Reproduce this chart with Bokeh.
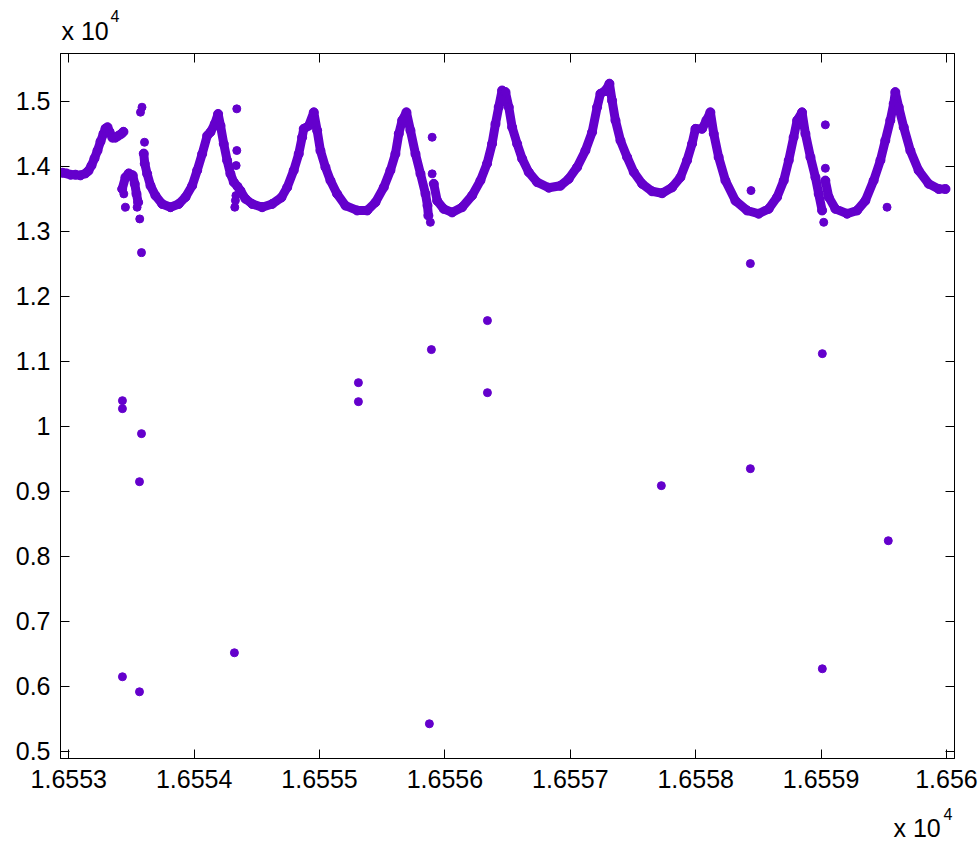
from bokeh.plotting import figure
from bokeh.models import FixedTicker, LinearAxis, Label, Range1d
from bokeh.embed import file_html
from bokeh.resources import INLINE

NAN = float("nan")

# ---- tick values / labels ----
x_ticks = [16553, 16554, 16555, 16556, 16557, 16558, 16559, 16560]
x_tick_labels = ["1.6553", "1.6554", "1.6555", "1.6556", "1.6557", "1.6558", "1.6559", "1.656"]
y_ticks = [5000, 6000, 7000, 8000, 9000, 10000, 11000, 12000, 13000, 14000, 15000]
y_tick_labels = ["0.5", "0.6", "0.7", "0.8", "0.9", "1", "1.1", "1.2", "1.3", "1.4", "1.5"]

# ---- main band, in pieces ----
seg_a_x = [16552.950, 16552.982, 16553.014, 16553.053, 16553.093, 16553.133, 16553.157, 16553.181,
           16553.205, 16553.229, 16553.253, 16553.277, 16553.293, 16553.309, 16553.325, 16553.348,
           16553.372, 16553.396, 16553.420, 16553.436]
seg_a_y = [13900, 13890, 13870, 13870, 13860, 13890, 13930, 14010, 14120, 14240, 14380, 14500,
           14580, 14600, 14530, 14440, 14440, 14470, 14500, 14530]

seg_b_x = [16553.426, 16553.452, 16553.478, 16553.510, 16553.526, 16553.540, 16553.553]
seg_b_y = [13650, 13830, 13890, 13860, 13730, 13575, 13445]

seg_c_x = [16553.598, 16553.606, 16553.625, 16553.652, 16553.691, 16553.745, 16553.811, 16553.877,
           16553.931, 16553.984, 16554.024, 16554.064, 16554.104, 16554.130, 16554.164, 16554.191,
           16554.210, 16554.236, 16554.263, 16554.289, 16554.316, 16554.345, 16554.369, 16554.409,
           16554.463, 16554.542, 16554.622, 16554.696, 16554.742, 16554.794, 16554.834, 16554.861,
           16554.874, 16554.914, 16554.954, 16554.981, 16555.007, 16555.047, 16555.087, 16555.140,
           16555.207, 16555.300, 16555.380, 16555.446, 16555.512, 16555.565, 16555.605, 16555.632,
           16555.659, 16555.693, 16555.725, 16555.765, 16555.805, 16555.845, 16555.861, 16555.868]
seg_c_y = [14195, 14040, 13885, 13700, 13550, 13420, 13370, 13420, 13525, 13700, 13935, 14190,
           14470, 14525, 14650, 14805, 14625, 14345, 14090, 13885, 13755, 13690, 13625, 13500,
           13420, 13370, 13420, 13520, 13675, 13935, 14190, 14445, 14575, 14625, 14830, 14550,
           14240, 13985, 13780, 13575, 13395, 13320, 13320, 13445, 13675, 13935, 14190, 14500,
           14705, 14830, 14550, 14190, 13885, 13575, 13395, 13240]

seg_d_x = [16555.911, 16555.938, 16555.990, 16556.057, 16556.137, 16556.217, 16556.283, 16556.336,
           16556.376, 16556.403, 16556.429, 16556.456, 16556.483, 16556.509, 16556.536, 16556.576,
           16556.616, 16556.668, 16556.735, 16556.828, 16556.921, 16556.987, 16557.054, 16557.120,
           16557.174, 16557.214, 16557.240, 16557.280, 16557.312, 16557.333, 16557.360, 16557.400,
           16557.453, 16557.506, 16557.573, 16557.652, 16557.732, 16557.812, 16557.878, 16557.931,
           16557.971, 16557.998, 16558.051, 16558.085, 16558.117, 16558.144, 16558.183, 16558.237,
           16558.317, 16558.410, 16558.502, 16558.582, 16558.649, 16558.702, 16558.742, 16558.781,
           16558.809, 16558.848, 16558.875, 16558.915, 16558.955, 16558.981, 16559.008]
seg_d_y = [13730, 13470, 13345, 13290, 13370, 13550, 13780, 14040, 14345, 14650, 14910, 15165,
           15140, 14910, 14600, 14345, 14115, 13910, 13755, 13670, 13700, 13805, 13985, 14240,
           14525, 14910, 15115, 15165, 15270, 15010, 14705, 14395, 14140, 13910, 13730, 13615,
           13585, 13675, 13830, 14090, 14345, 14575, 14575, 14705, 14830, 14500, 14140, 13780,
           13470, 13320, 13270, 13345, 13525, 13780, 14090, 14445, 14705, 14830, 14500, 14140,
           13830, 13575, 13320]

seg_e_x = [16559.034, 16559.061, 16559.114, 16559.207, 16559.287, 16559.353, 16559.419, 16559.473,
           16559.512, 16559.552, 16559.579, 16559.592, 16559.619, 16559.659, 16559.712, 16559.778,
           16559.858, 16559.938, 16559.992]
seg_e_y = [13780, 13525, 13345, 13270, 13320, 13470, 13780, 14090, 14395, 14705, 14960, 15140,
           14910, 14600, 14240, 13935, 13730, 13650, 13650]

# ---- isolated points near the band ----
near_x = [16553.439, 16553.452, 16553.545, 16553.566, 16553.584, 16553.572, 16553.604, 16554.340,
          16554.340, 16554.335, 16554.324, 16554.333, 16554.329, 16555.898, 16555.898, 16555.884,
          16558.441, 16559.034, 16559.034, 16559.021, 16559.526]
near_y = [13575, 13370, 13370, 13190, 14908, 14831, 14369, 14883, 14242, 14011, 13370, 13549,
          13473, 14446, 13883, 13138, 13626, 14637, 13969, 13138, 13370]

# ---- far outliers ----
out_x = [16553.428, 16553.428, 16553.428, 16553.564, 16553.580, 16553.564, 16553.580, 16554.321,
         16555.310, 16555.310, 16555.892, 16555.876, 16556.339, 16556.339, 16557.726, 16558.436,
         16558.436, 16559.010, 16559.010, 16559.536]
out_y = [10395, 10272, 6149, 5918, 9888, 9149, 12672, 6518, 10672, 10380, 11180, 5426, 11626,
         10518, 9088, 12503, 9349, 11118, 6272, 8241]

segments = [(seg_a_x, seg_a_y), (seg_b_x, seg_b_y), (seg_c_x, seg_c_y),
            (seg_d_x, seg_d_y), (seg_e_x, seg_e_y)]
for sx, sy in segments:
    assert len(sx) == len(sy)
assert len(near_x) == len(near_y) and len(out_x) == len(out_y)

band_x, band_y = [], []
for sx, sy in segments:
    band_x += sx + [NAN]
    band_y += sy + [NAN]

COLOR = "#6400CC"
FONT = "Liberation Sans"

p = figure(width=979, height=843, output_backend="svg", toolbar_location=None,
           x_range=Range1d(16552.934, 16560.064), y_range=Range1d(4892, 15734),
           min_border_left=60, min_border_right=25, min_border_top=53, min_border_bottom=85)
p.grid.visible = False
p.outline_line_color = "black"
p.outline_line_width = 1
p.background_fill_color = "white"
p.border_fill_color = "white"

p.line(band_x, band_y, line_color=COLOR, line_width=9, line_join="round", line_cap="round")
all_sx = [v for sx, _ in segments for v in sx]
all_sy = [v for _, sy in segments for v in sy]
p.scatter(all_sx, all_sy, size=9, color=COLOR)
p.scatter(near_x, near_y, size=8, color=COLOR)
p.scatter(out_x, out_y, size=8, color=COLOR)

p.add_layout(LinearAxis(), "above")
p.add_layout(LinearAxis(), "right")

for ax in p.xaxis:
    ax.ticker = FixedTicker(ticks=x_ticks)
    ax.major_label_overrides = {t: l for t, l in zip(x_ticks, x_tick_labels)}
for ax in p.yaxis:
    ax.ticker = FixedTicker(ticks=y_ticks)
    ax.major_label_overrides = {t: l for t, l in zip(y_ticks, y_tick_labels)}

for ax in p.xaxis + p.yaxis:
    ax.major_tick_in = 9
    ax.major_tick_out = 0
    ax.minor_tick_line_color = None
    ax.axis_line_color = "black"
    ax.major_tick_line_color = "black"
    ax.major_label_text_font = FONT
    ax.major_label_text_font_size = "25px"
    ax.major_label_text_color = "black"

for ax in p.above + p.right:
    if isinstance(ax, LinearAxis):
        ax.major_label_text_font_size = "1px"
        ax.major_label_text_color = None
        ax.major_label_standoff = 0
for ax in p.below:
    if isinstance(ax, LinearAxis):
        ax.major_label_standoff = 11
for ax in p.left:
    if isinstance(ax, LinearAxis):
        ax.major_label_standoff = 10

# exponent annotations ("x 10^4"), placed in the side panels so they are not clipped
p.add_layout(Label(x=16552.942, y=16080, text="x 10", text_font=FONT, text_font_size="25px",
                   text_color="black", text_baseline="alphabetic"), "above")
p.add_layout(Label(x=16553.333, y=16310, text="4", text_font=FONT, text_font_size="16px",
                   text_color="black", text_baseline="alphabetic"), "above")
p.add_layout(Label(x=16559.577, y=3820, text="x 10", text_font=FONT, text_font_size="25px",
                   text_color="black", text_baseline="alphabetic"), "below")
p.add_layout(Label(x=16559.976, y=4035, text="4", text_font=FONT, text_font_size="16px",
                   text_color="black", text_baseline="alphabetic"), "below")

open("out.html", "w").write(file_html(p, INLINE))
